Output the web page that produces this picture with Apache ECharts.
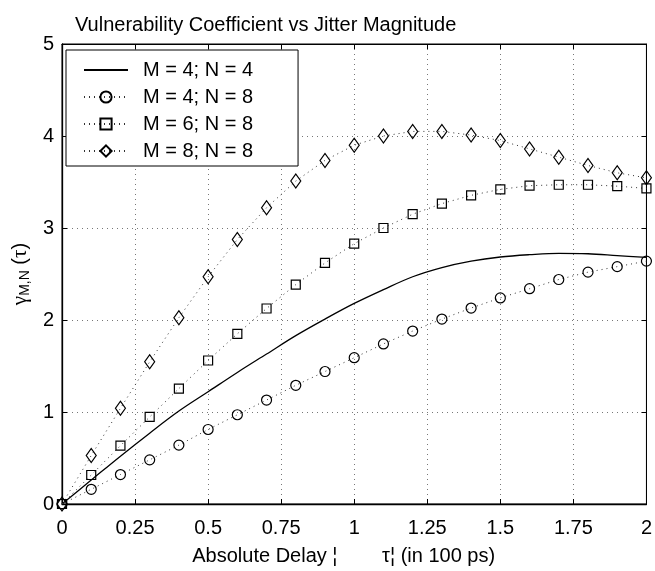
<!DOCTYPE html>
<html>
<head>
<meta charset="utf-8">
<script src="https://cdn.jsdelivr.net/npm/echarts@6/dist/echarts.min.js"></script>
<style>
html,body{margin:0;padding:0;background:#fff;}
#c{width:655px;height:571px;}
</style>
</head>
<body>
<div id="c"></div>
<script>
// x positions (in 100 ps)
var xValues = [0,0.1,0.2,0.3,0.4,0.5,0.6,0.7,0.8,0.9,1.0,1.1,1.2,1.3,1.4,1.5,1.6,1.7,1.8,1.9,2.0];
// M = 4; N = 4 (solid curve)
var solid44 = [0,0.26,0.52,0.77,1.01,1.22,1.43,1.63,1.83,2.01,2.18,2.33,2.47,2.57,2.64,2.685,2.71,2.725,2.72,2.70,2.68];
// M = 4; N = 8 (circles)
var circ48 = [0,0.16,0.32,0.48,0.64,0.81,0.97,1.13,1.29,1.44,1.59,1.74,1.88,2.01,2.13,2.24,2.34,2.44,2.52,2.58,2.64];
// M = 6; N = 8 (squares)
var sq68 = [0,0.315,0.634,0.946,1.255,1.56,1.85,2.125,2.385,2.62,2.83,3.0,3.15,3.265,3.355,3.42,3.46,3.47,3.47,3.455,3.43];
// M = 8; N = 8 (diamonds)
var dia88 = [0,0.527,1.04,1.545,2.025,2.47,2.875,3.22,3.51,3.735,3.90,4.00,4.05,4.05,4.01,3.95,3.86,3.77,3.68,3.60,3.545];
var seriesNames = ['M = 4; N = 4','M = 4; N = 8','M = 6; N = 8','M = 8; N = 8'];
var titleText = 'Vulnerability Coefficient vs Jitter Magnitude';
var xName = 'Absolute Delay \u00A6        \u03C4\u00A6 (in 100 ps)';

function pairs(ys){ return xValues.map(function(x,i){ return [x, ys[i]]; }); }

var FONT = 'Liberation Sans, Arial, Helvetica, sans-serif';
var dotLine = {type:[1,4], color:'#333', width:1};
var gridLine = {show:true, lineStyle:{type:[1,4], color:'#777', width:1}};
var markerStyle = {color:'rgba(255,255,255,0)', borderColor:'#000', borderWidth:1.2, opacity:1};

var chart = echarts.init(document.getElementById('c'), null, {renderer:'canvas'});
chart.setOption({
  animation:false,
  backgroundColor:'#fff',
  textStyle:{fontFamily:FONT},
  title:{
    text:titleText, left:70, top:10,
    textStyle:{fontFamily:FONT, fontSize:20, fontWeight:'normal', color:'#000'}
  },
  grid:{left:62, top:44, width:590, height:465, show:true, borderColor:'#000', borderWidth:1, backgroundColor:'transparent'},
  legend:{
    left:66, top:50, orient:'vertical',
    data:[
      {name:seriesNames[0], itemStyle:{opacity:0}},
      {name:seriesNames[1]},
      {name:seriesNames[2]},
      {name:seriesNames[3]}
    ],
    itemWidth:44, itemHeight:14, itemGap:7,
    padding:[10,45,5,17],
    backgroundColor:'#fff', borderColor:'#000', borderWidth:1,
    textStyle:{fontFamily:FONT, fontSize:20, color:'#000', padding:[0,0,0,10]}
  },
  xAxis:[{
    type:'value', min:0, max:2, interval:0.25,
    name:xName, nameLocation:'middle', nameGap:42,
    nameTextStyle:{fontFamily:FONT, fontSize:20, color:'#000', padding:[0,21,0,0]},
    axisLine:{show:true, onZero:false, lineStyle:{color:'#000', width:1.3}},
    axisTick:{show:true, inside:true, length:5, lineStyle:{color:'#000'}},
    axisLabel:{fontFamily:FONT, fontSize:20, color:'#000', margin:14},
    splitLine:gridLine
  },{
    type:'value', min:0, max:2, interval:0.25, position:'top',
    axisLine:{show:true, onZero:false, lineStyle:{color:'#000', width:1}},
    axisTick:{show:true, inside:true, length:5, lineStyle:{color:'#000'}},
    axisLabel:{show:false}, splitLine:{show:false}
  }],
  yAxis:[{
    type:'value', min:0, max:5, interval:1,
    name:'{g|\u03B3}{s|M,N}{p| (}{g|\u03C4}{p|)}', nameLocation:'middle', nameGap:26, nameRotate:90,
    nameTextStyle:{fontFamily:FONT, fontSize:20, color:'#000',
      rich:{ g:{fontFamily:'Liberation Serif, DejaVu Serif, serif', fontSize:21, color:'#000'},
             p:{fontFamily:FONT, fontSize:20, color:'#000'},
             s:{fontFamily:FONT, fontSize:14, color:'#000', padding:[9,0,0,0]} }},
    axisLine:{show:true, onZero:false, lineStyle:{color:'#000', width:1.3}},
    axisTick:{show:true, inside:true, length:5, lineStyle:{color:'#000'}},
    axisLabel:{fontFamily:FONT, fontSize:20, color:'#000', margin:8},
    splitLine:gridLine
  },{
    type:'value', min:0, max:5, interval:1, position:'right',
    axisLine:{show:true, onZero:false, lineStyle:{color:'#000', width:1}},
    axisTick:{show:true, inside:true, length:5, lineStyle:{color:'#000'}},
    axisLabel:{show:false}, splitLine:{show:false}
  }],
  series:[
    {name:seriesNames[0], type:'line', data:pairs(solid44), smooth:0.35, symbol:'none',
     lineStyle:{color:'#000', width:1.3, type:'solid'}, itemStyle:{color:'#000'}, z:3},
    {name:seriesNames[1], type:'line', data:pairs(circ48), symbol:'circle', symbolSize:10,
     lineStyle:dotLine, itemStyle:markerStyle, z:4},
    {name:seriesNames[2], type:'line', data:pairs(sq68), symbol:'rect', symbolSize:9,
     lineStyle:dotLine, itemStyle:markerStyle, z:4},
    {name:seriesNames[3], type:'line', data:pairs(dia88), symbol:'diamond', symbolSize:[10,14],
     lineStyle:dotLine, itemStyle:markerStyle, z:4}
  ]
});
</script>
</body>
</html>
